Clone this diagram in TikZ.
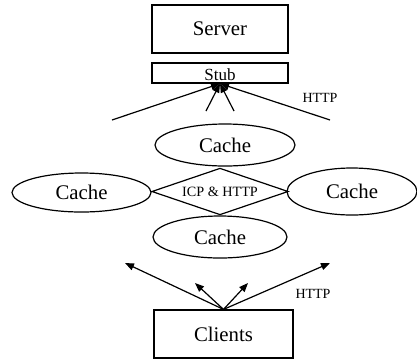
\documentclass[tikz,border=0pt]{standalone}
\usepackage{fontspec}
\setmainfont{Liberation Serif}
\usetikzlibrary{shapes.geometric,arrows.meta}
\begin{document}
\begin{tikzpicture}[x=1pt,y=-1pt,
  box/.style={draw,line width=1.2pt,rectangle,inner sep=0pt,font=\fontsize{20.8}{22}\selectfont},
  cache/.style={draw,line width=1.2pt,ellipse,inner sep=0pt,font=\fontsize{20.8}{22}\selectfont},
  lab/.style={inner sep=0pt,font=\fontsize{14}{16}\selectfont},
  arr/.style={line width=1.2pt,-{Triangle[length=9pt,width=7pt]}}]
\useasboundingbox (0,0) rectangle (417,360);
\node[box,minimum width=136pt,minimum height=48pt] (server) at (220,29) {Server};
\node[box,minimum width=136pt,minimum height=20pt,text height=15pt,text depth=0pt,font=\fontsize{17}{18}\selectfont] (stub) at (220,73) {Stub};
\node[cache,minimum width=140pt,minimum height=42pt] (ctop) at (225,145) {Cache};
\node[cache,minimum width=139pt,minimum height=39pt] (cleft) at (81.5,192.5) {Cache};
\node[cache,minimum width=130pt,minimum height=47pt] (cright) at (352,191.5) {Cache};
\node[cache,minimum width=134pt,minimum height=42pt] (cbot) at (220,237) {Cache};
\node[draw,line width=1.2pt,diamond,aspect=2.9,inner sep=0pt,minimum width=136.5pt,minimum height=46.7pt,font=\fontsize{14.2}{16}\selectfont] (icp) at (220,191.5) {ICP \& HTTP};
\node[box,minimum width=139pt,minimum height=48pt] (clients) at (223.5,334) {Clients};
\node[lab] (http1) at (320,98) {HTTP};
\node[lab] (http2) at (313,294) {HTTP};
\coordinate (u1) at (112,120);
\coordinate (u2) at (206,111);
\coordinate (u3) at (234,111);
\coordinate (u4) at (330,120);
\coordinate (d1) at (125,263);
\coordinate (d2) at (195,283);
\coordinate (d3) at (248,283);
\coordinate (d4) at (330,263);
\foreach \p in {u1,u2,u3,u4} \draw[arr] (\p) -- (stub.south);
\foreach \p in {d1,d2,d3,d4} \draw[arr] (clients.north) -- (\p);
\end{tikzpicture}
\end{document}
